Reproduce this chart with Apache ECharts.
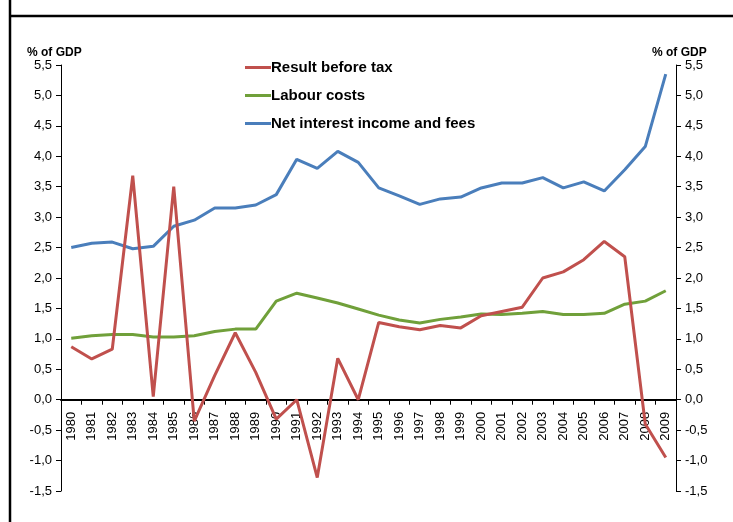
<!DOCTYPE html>
<html>
<head>
<meta charset="utf-8">
<script src="https://cdn.jsdelivr.net/npm/echarts@6/dist/echarts.min.js"></script>
<style>html,body{margin:0;padding:0;background:#fff}#c{width:733px;height:522px}</style>
</head>
<body>
<div id="c"></div>
<script>
var years = ['1980','1981','1982','1983','1984','1985','1986','1987','1988','1989','1990','1991','1992','1993','1994','1995','1996','1997','1998','1999','2000','2001','2002','2003','2004','2005','2006','2007','2008','2009'];
var resultBeforeTax = [0.87,0.67,0.83,3.68,0.05,3.5,-0.35,0.4,1.1,0.45,-0.32,0.0,-1.28,0.68,0.0,1.27,1.2,1.15,1.22,1.18,1.38,1.45,1.52,2.0,2.1,2.3,2.6,2.35,-0.4,-0.95];
var labourCosts = [1.01,1.05,1.07,1.07,1.03,1.03,1.05,1.12,1.16,1.16,1.62,1.75,1.67,1.59,1.49,1.39,1.31,1.26,1.32,1.36,1.41,1.4,1.42,1.45,1.4,1.4,1.42,1.57,1.62,1.79];
var netInterest = [2.5,2.57,2.59,2.48,2.52,2.85,2.95,3.15,3.15,3.2,3.37,3.95,3.8,4.08,3.9,3.48,3.35,3.21,3.3,3.33,3.48,3.56,3.56,3.65,3.48,3.58,3.43,3.78,4.16,5.35];
var seriesNames = ['Result before tax','Labour costs','Net interest income and fees'];
var colors = ['#C0504D','#70A03A','#4A7EBB'];
var yMin = -1.5, yMax = 5.5;

var gridTop = 65, gridBottom = 31, H = 522;
var plotH = H - gridTop - gridBottom;
var zeroOffset = -plotH * (0 - yMin) / (yMax - yMin);

var chart = echarts.init(document.getElementById('c'));
function fmt(v){ return v.toFixed(1).replace('.', ','); }
var axisCommon = {
  type: 'value', min: yMin, max: yMax, interval: 0.5,
  axisLine: {show: true, lineStyle: {color: '#000', width: 1}},
  axisTick: {show: true, length: 5, lineStyle: {color: '#000'}},
  splitLine: {show: false},
  axisLabel: {formatter: fmt, color: '#000', fontFamily: 'Liberation Sans', fontSize: 13, margin: 9}
};
chart.setOption({
  animation: false,
  grid: {left: 61, right: 57, top: gridTop, bottom: gridBottom},
  color: colors,
  legend: {
    orient: 'vertical', left: 240, top: 55,
    itemWidth: 26, itemHeight: 3, itemGap: 13,
    icon: 'rect',
    textStyle: {fontFamily: 'Liberation Sans', fontWeight: 'bold', fontSize: 15, color: '#000', padding: [0,0,0,-5]},
    data: seriesNames
  },
  xAxis: {
    type: 'category', data: years, boundaryGap: true,
    position: 'bottom', offset: zeroOffset,
    axisLine: {onZero: false, lineStyle: {color: '#000', width: 2}},
    axisTick: {show: true, length: 5, inside: false, lineStyle: {color: '#000', width: 1}},
    axisLabel: {rotate: 90, interval: 0, color: '#000', fontFamily: 'Liberation Sans', fontSize: 13, margin: 12}
  },
  yAxis: [
    Object.assign({position: 'left'}, axisCommon),
    Object.assign({position: 'right'}, axisCommon)
  ],
  graphic: [
    {type: 'line', shape: {x1: 10, y1: 0, x2: 10, y2: 522}, style: {stroke: '#000', lineWidth: 2.5}},
    {type: 'line', shape: {x1: 10, y1: 16, x2: 733, y2: 16}, style: {stroke: '#000', lineWidth: 2.5}},
    {type: 'text', left: 27, top: 47, style: {text: '% of GDP', font: 'bold 12px "Liberation Sans"', fill: '#000'}},
    {type: 'text', left: 652, top: 47, style: {text: '% of GDP', font: 'bold 12px "Liberation Sans"', fill: '#000'}}
  ],
  series: [
    {name: seriesNames[0], type: 'line', data: resultBeforeTax, symbol: 'none', lineStyle: {width: 3, color: colors[0]}, z: 3},
    {name: seriesNames[1], type: 'line', data: labourCosts, symbol: 'none', lineStyle: {width: 3, color: colors[1]}, z: 2},
    {name: seriesNames[2], type: 'line', data: netInterest, symbol: 'none', lineStyle: {width: 3, color: colors[2]}, z: 2}
  ]
});
</script>
</body>
</html>
